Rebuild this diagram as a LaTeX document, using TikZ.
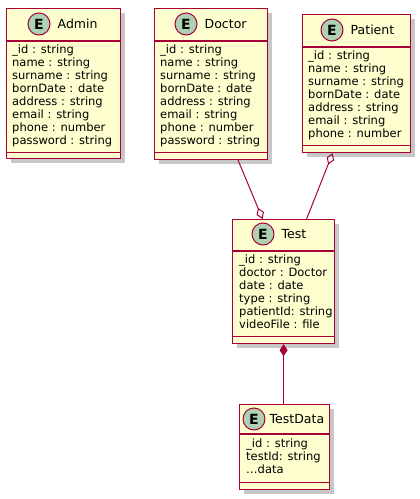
\documentclass[tikz,border=0pt]{standalone}
\usepackage{fontspec}
\setmainfont{DejaVu Sans}
\usetikzlibrary{positioning,arrows.meta,shadows}
\definecolor{umlfill}{HTML}{FEFECE}
\definecolor{umlred}{HTML}{A80036}
\definecolor{umlbadge}{HTML}{ADD1B2}

\begin{document}
\begin{tikzpicture}[
    x=1pt, y=-1pt,
    entity/.style={draw=umlred, fill=umlfill, line width=1.2pt, inner sep=0pt, anchor=north west,
                   drop shadow={shadow xshift=4pt, shadow yshift=-4pt, fill=black, opacity=0.22}},
    divider/.style={draw=umlred, line width=1.2pt},
    badge/.style={circle, draw=umlred, fill=umlbadge, line width=1pt, minimum size=22pt, inner sep=0pt,
                  font=\fontsize{14}{14}\selectfont\bfseries},
    etitle/.style={inner sep=0pt, font=\fontsize{12.5}{14}\selectfont},
    attrs/.style={anchor=north west, inner sep=0pt, align=left, font=\fontsize{11.5}{12.9}\selectfont},
    link/.style={draw=umlred, line width=1pt},
    >=Stealth
  ]
  \useasboundingbox (0,0) rectangle (420,499);

  % Admin
  \node[entity, minimum width=114pt, minimum height=150pt] (admin) at (6,8) {};
  \draw[divider] ([yshift=-33pt]admin.north west) -- ([yshift=-33pt]admin.north east);
  \draw[divider] ([yshift=7pt]admin.south west) -- ([yshift=7pt]admin.south east);
  \node[badge] (adminbadge) at (39,24) {E};
  \node[etitle, right=7pt of adminbadge] (adminname) {Admin};
  \node[attrs] (adminattrs) at ([shift={(6pt,-37pt)}]admin.north west) {
    \_id : string\\ name : string\\ surname : string\\ bornDate : date\\
    address : string\\ email : string\\ phone : number\\ password : string
  };

  % Doctor
  \node[entity, minimum width=113pt, minimum height=151pt] (doctor) at (154,8) {};
  \draw[divider] ([yshift=-33pt]doctor.north west) -- ([yshift=-33pt]doctor.north east);
  \draw[divider] ([yshift=8pt]doctor.south west) -- ([yshift=8pt]doctor.south east);
  \node[badge] (doctorbadge) at (186,24) {E};
  \node[etitle, right=7pt of doctorbadge] (doctorname) {Doctor};
  \node[attrs] (doctorattrs) at ([shift={(6pt,-37pt)}]doctor.north west) {
    \_id : string\\ name : string\\ surname : string\\ bornDate : date\\
    address : string\\ email : string\\ phone : number\\ password : string
  };

  % Patient
  \node[entity, minimum width=108pt, minimum height=138pt] (patient) at (302,14) {};
  \draw[divider] ([yshift=-33pt]patient.north west) -- ([yshift=-33pt]patient.north east);
  \draw[divider] ([yshift=8pt]patient.south west) -- ([yshift=8pt]patient.south east);
  \node[badge] (patientbadge) at (332,30) {E};
  \node[etitle, right=7pt of patientbadge] (patientname) {Patient};
  \node[attrs] (patientattrs) at ([shift={(6pt,-37pt)}]patient.north west) {
    \_id : string\\ name : string\\ surname : string\\ bornDate : date\\
    address : string\\ email : string\\ phone : number
  };

  % Test
  \node[entity, minimum width=102pt, minimum height=124pt] (test) at (232,219) {};
  \draw[divider] ([yshift=-32pt]test.north west) -- ([yshift=-32pt]test.north east);
  \draw[divider] ([yshift=8pt]test.south west) -- ([yshift=8pt]test.south east);
  \node[badge] (testbadge) at (263,234) {E};
  \node[etitle, right=7pt of testbadge] (testname) {Test};
  \node[attrs] (testattrs) at ([shift={(7pt,-36pt)}]test.north west) {
    \_id : string\\ doctor : Doctor\\ date : date\\ type : string\\
    patientId: string\\ videoFile : file
  };

  % TestData
  \node[entity, minimum width=90pt, minimum height=85pt] (testdata) at (239,404) {};
  \draw[divider] ([yshift=-30pt]testdata.north west) -- ([yshift=-30pt]testdata.north east);
  \draw[divider] ([yshift=8pt]testdata.south west) -- ([yshift=8pt]testdata.south east);
  \node[badge] (testdatabadge) at (254,419) {E};
  \node[etitle, right=4pt of testdatabadge] (testdataname) {TestData};
  \node[attrs] (testdataattrs) at ([shift={(7pt,-35pt)}]testdata.north west) {
    \_id : string\\ testId: string\\ …data
  };

  \draw[link, -{Diamond[open, length=12pt, width=8pt]}] ([xshift=27pt]doctor.south) -- ([xshift=-21pt]test.north);
  \draw[link, {Diamond[open, length=12pt, width=8pt]}-] ([xshift=-24pt]patient.south) -- ([xshift=23pt]test.north);
  \draw[link, {Diamond[length=12pt, width=8pt]}-] (test.south) -- (test.south |- testdata.north);
\end{tikzpicture}
\end{document}
